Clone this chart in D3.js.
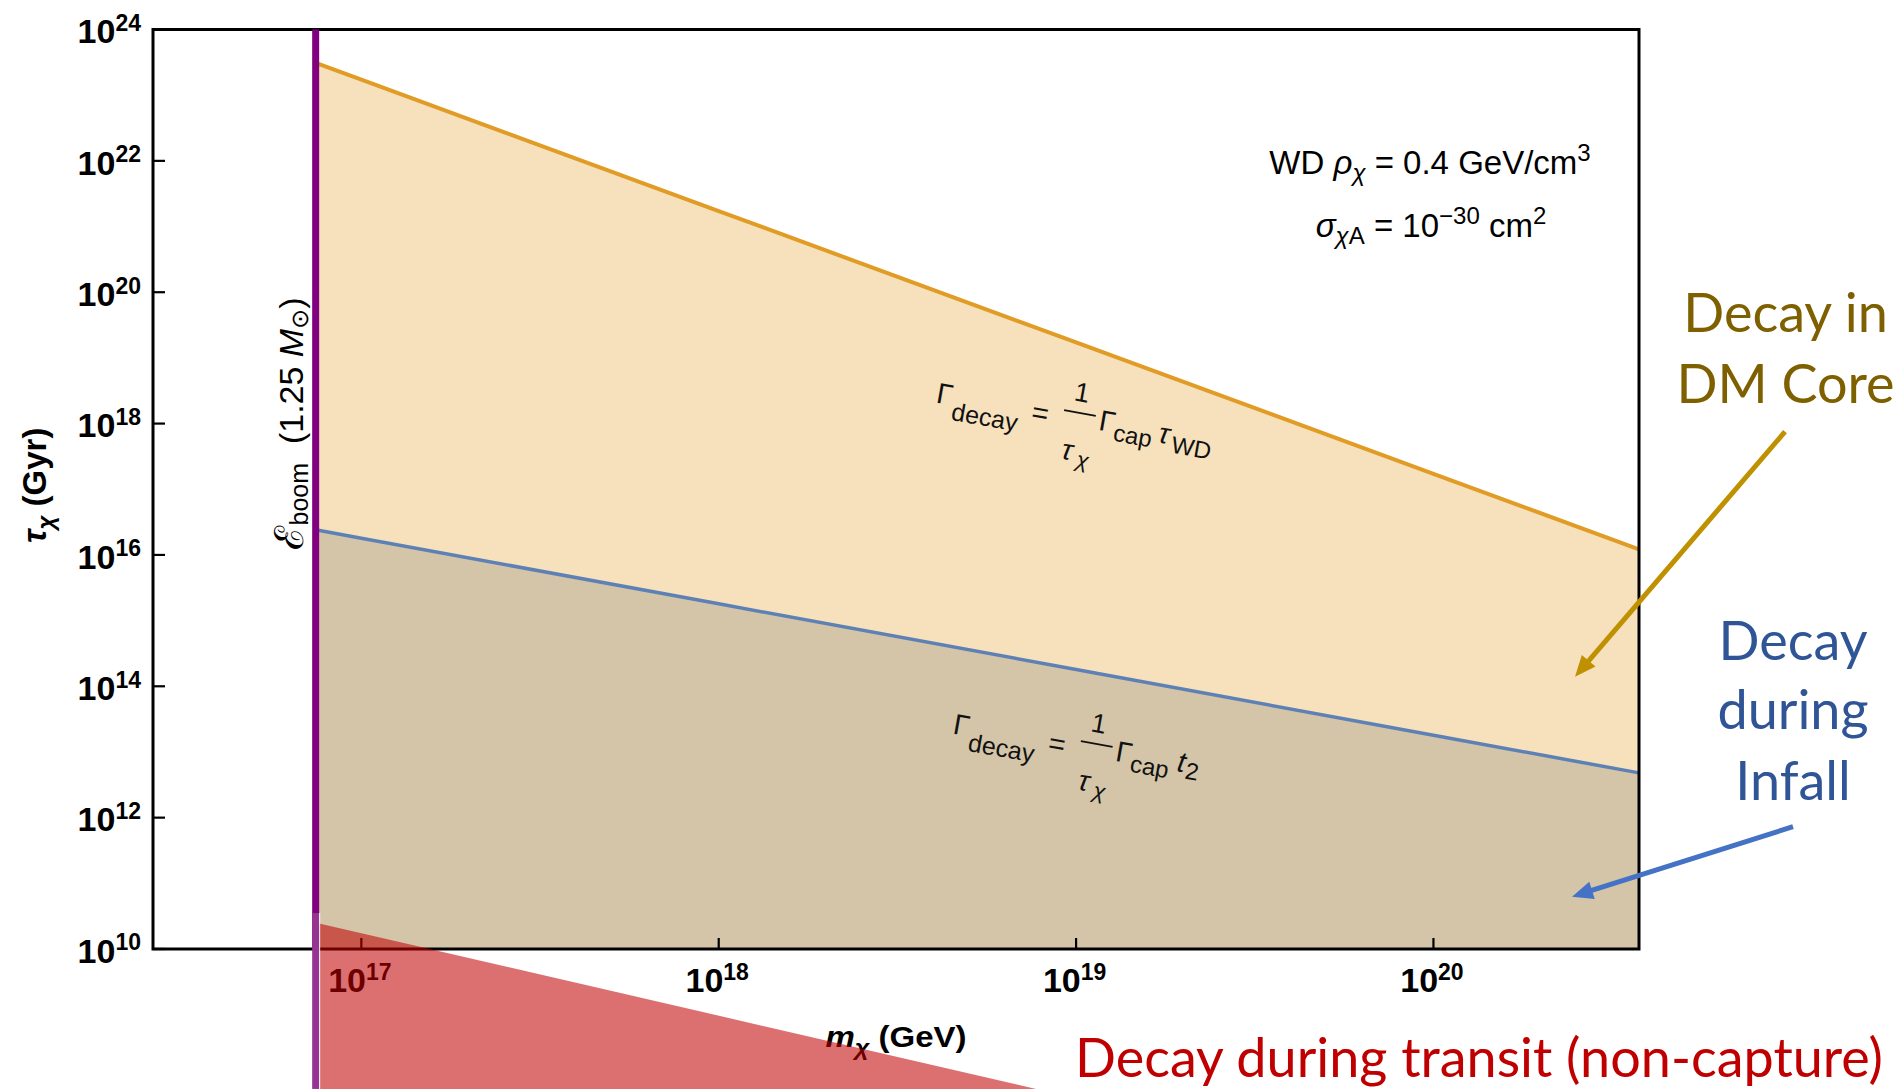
<!DOCTYPE html>
<html><head><meta charset="utf-8">
<script src="https://cdn.jsdelivr.net/npm/d3@7"></script>
<style>
html,body{margin:0;padding:0;background:#fff;}
svg{display:block;}
</style></head><body>
<svg id="chart" width="1895" height="1089"></svg>
<script>
// ---------------- data ----------------
const massGrid   = [7.45e16, 1e17, 1e18, 1e19, 1e20, 3.76e20];           // m_X (GeV)
const tauCore    = [3.1e23, 1.72e23, 1.72e21, 1.72e19, 1.72e17, 1.22e16];  // Γdecay = Γcap τWD / τχ
const tauInfall  = [2.42e16, 1.8e16, 1.8e15, 1.8e14, 1.8e13, 4.8e12];    // Γdecay = Γcap t2 / τχ
const transitMass = [7.45e16, 7.73e18];                                 // decay during transit overlay
const transitTau  = [2.45e10, 7.4e7];
const boomMass = 7.45e16;                                               // E_boom (1.25 Msun)
const boomOverlayTau = [3.53e10, 7.4e7];
const xTickVals = [1e17, 1e18, 1e19, 1e20];
const xTickExp  = ["17", "18", "19", "20"];
const yTickVals = [1e10, 1e12, 1e14, 1e16, 1e18, 1e20, 1e22, 1e24];
const yTickExp  = ["10", "12", "14", "16", "18", "20", "22", "24"];
const xDomain = [2.612e16, 3.76e20];
const yDomain = [1e10, 1e24];

// ---------------- setup ----------------
const svg = d3.select("#chart");
const FONT = "'Liberation Sans', Arial, Helvetica, sans-serif";
const CAL = "Lato, 'Open Sans', sans-serif";
const L = 153, R = 1639, T = 29.5, B = 949;
const x = d3.scaleLog().domain(xDomain).range([L, R]);
const y = d3.scaleLog().domain(yDomain).range([B, T]);

const pts = (taus) => massGrid.map((m, i) => [m, taus[i]]);
const area = d3.area().x(d => x(d[0])).y0(y(yDomain[0])).y1(d => y(d[1]));
const line = d3.line().x(d => x(d[0])).y(d => y(d[1]));

const plot = svg.append("g");
plot.append("path").attr("d", area(pts(tauCore))).attr("fill", "#f6e1bc");
plot.append("path").attr("d", area(pts(tauInfall))).attr("fill", "#d4c5a9");
plot.append("path").attr("d", line(pts(tauCore))).attr("fill", "none")
  .attr("stroke", "#e09c24").attr("stroke-width", 4);
plot.append("path").attr("d", line(pts(tauInfall))).attr("fill", "none")
  .attr("stroke", "#5e81b5").attr("stroke-width", 3.5);

// frame
svg.append("rect").attr("x", L).attr("y", T).attr("width", R - L).attr("height", B - T)
  .attr("fill", "none").attr("stroke", "#000").attr("stroke-width", 3);

// ticks
const tickG = svg.append("g").attr("stroke", "#000").attr("stroke-width", 2.2);
yTickVals.forEach(v => tickG.append("line").attr("x1", L).attr("x2", L + 12).attr("y1", y(v)).attr("y2", y(v)));
xTickVals.forEach(v => tickG.append("line").attr("x1", x(v)).attr("x2", x(v)).attr("y1", B).attr("y2", B - 11));

// purple E_boom line
svg.append("line").attr("x1", x(boomMass)).attr("x2", x(boomMass))
  .attr("y1", y(yDomain[1])).attr("y2", y(yDomain[0]))
  .attr("stroke", "#800080").attr("stroke-width", 7);

// tick labels
function powLabel(px, py, exp, anchor) {
  const t = svg.append("text").attr("transform", `translate(${px},${py})`)
    .attr("text-anchor", anchor).attr("font-family", FONT).attr("font-weight", "bold")
    .attr("font-size", 34).attr("fill", "#000");
  t.append("tspan").text("10");
  t.append("tspan").attr("dy", -12.5).attr("font-size", 23).text(exp);
}
yTickVals.forEach((v, i) => powLabel(141, y(v) + 13.8, yTickExp[i], "end"));
xTickVals.forEach((v, i) => powLabel(x(v) - 1.5, 992, xTickExp[i], "middle"));

// axis titles
const yt = svg.append("text").attr("transform", `translate(46,${(T + B) / 2 - 4}) rotate(-90)`)
  .attr("text-anchor", "middle").attr("font-family", FONT).attr("font-weight", "bold").attr("font-size", 33);
yt.append("tspan").attr("font-style", "italic").text("τ");
yt.append("tspan").attr("font-style", "italic").attr("font-size", 24).attr("dy", 8).text("χ");
yt.append("tspan").attr("dy", -8).text(" (Gyr)");

const xt = svg.append("text").attr("transform", `translate(${(L + R) / 2},1047) scale(1.1,1)`)
  .attr("text-anchor", "middle").attr("font-family", FONT).attr("font-weight", "bold").attr("font-size", 30);
xt.append("tspan").attr("font-style", "italic").text("m");
xt.append("tspan").attr("font-style", "italic").attr("font-size", 23).attr("dy", 8).text("χ");
xt.append("tspan").attr("dy", -8).text(" (GeV)");

// E_boom label (rotated)
const eb = svg.append("text").attr("transform", `translate(${x(boomMass) - 13},423.5) rotate(-90)`)
  .attr("text-anchor", "middle").attr("font-family", FONT).attr("font-size", 34).attr("fill", "#000");
eb.append("tspan").attr("font-size", 40).text("ℰ");
eb.append("tspan").attr("font-size", 25).attr("dy", 5).text("boom");
eb.append("tspan").attr("dy", -5).attr("xml:space", "preserve").text("  (1.25 ");
eb.append("tspan").attr("font-style", "italic").text("M");
eb.append("tspan").attr("font-size", 24).attr("dy", 5).text("⊙");
eb.append("tspan").attr("dy", -5).text(")");

// parameter box text
const p1 = svg.append("text").attr("x", 1430).attr("y", 174).attr("text-anchor", "middle")
  .attr("font-family", FONT).attr("font-size", 33);
p1.append("tspan").text("WD ");
p1.append("tspan").attr("font-style", "italic").text("ρ");
p1.append("tspan").attr("font-style", "italic").attr("font-size", 24).attr("dy", 7).text("χ");
p1.append("tspan").attr("dy", -7).text(" = 0.4 GeV/cm");
p1.append("tspan").attr("font-size", 24).attr("dy", -13).text("3");
const p2 = svg.append("text").attr("x", 1431).attr("y", 236.7).attr("text-anchor", "middle")
  .attr("font-family", FONT).attr("font-size", 33);
p2.append("tspan").attr("font-style", "italic").text("σ");
p2.append("tspan").attr("font-style", "italic").attr("font-size", 24).attr("dy", 7).text("χ");
p2.append("tspan").attr("font-size", 24).text("A");
p2.append("tspan").attr("dy", -7).text(" = 10");
p2.append("tspan").attr("font-size", 24).attr("dy", -13).text("−30");
p2.append("tspan").attr("dy", 13).text(" cm");
p2.append("tspan").attr("font-size", 24).attr("dy", -13).text("2");

// rotated formula labels
function formula(mAnchor, tAnchor, tail) {
  const ax = x(mAnchor), ay = y(tAnchor);
  const g = svg.append("g").attr("transform", `translate(${ax},${ay})`)
    .attr("font-family", FONT).attr("fill", "#111");
  const piece = (px, py, txt, size, italic, anchor) => {
    g.append("text").attr("transform", `translate(${px},${py}) rotate(10)`)
      .attr("font-size", size).attr("font-style", italic ? "italic" : "normal")
      .attr("text-anchor", anchor || "start").text(txt);
  };
  piece(0, 0, "Γ", 29, false);
  piece(15, 17.2, "decay", 25, false);
  piece(95, 18.5, "=", 29, false);
  piece(145.3, -1, "1", 27, false, "middle");
  g.append("line").attr("x1", 128.8).attr("y1", 7.5).attr("x2", 160.5).attr("y2", 13.3)
    .attr("stroke", "#111").attr("stroke-width", 1.8);
  piece(125, 56, "τ", 29, true);
  piece(140, 64, "χ", 22, true);
  piece(162.5, 27.2, "Γ", 29, false);
  piece(177, 38, "cap", 24, false);
  tail.forEach(p => piece(p[0], p[1], p[2], p[3], p[4]));
}
formula(Math.pow(10, 18.606), Math.pow(10, 18.32), [[222, 39.6, "τ", 29, true], [235, 50, "WD", 24, false]]);
formula(Math.pow(10, 18.653), Math.pow(10, 13.28), [[224, 37.4, "t", 29, true], [232, 45, "2", 24, false]]);

// ---------------- overlay (transit + annotations) ----------------
const transitPoly = [
  [x(transitMass[0]) + 3.5, y(transitTau[0])],
  [x(transitMass[1]), y(transitTau[1])],
  [x(transitMass[0]) + 3.5, y(transitTau[1])]
];
svg.append("path").attr("d", "M" + transitPoly.map(p => p.join(",")).join("L") + "Z")
  .attr("fill", "#c00000").attr("fill-opacity", 0.56);
svg.append("rect").attr("x", x(boomMass) - 3.5).attr("y", y(boomOverlayTau[0]))
  .attr("width", 7).attr("height", y(boomOverlayTau[1]) - y(boomOverlayTau[0]))
  .attr("fill", "#973393");
svg.append("line").attr("x1", x(boomMass) + 4).attr("x2", x(boomMass) + 4)
  .attr("y1", y(boomOverlayTau[0])).attr("y2", y(boomOverlayTau[1]))
  .attr("stroke", "#fff").attr("stroke-width", 1);

function arrow(x1, y1, x2, y2, color, w, hl, hw) {
  const dx = x2 - x1, dy = y2 - y1, len = Math.hypot(dx, dy);
  const ux = dx / len, uy = dy / len;
  const bx = x2 - ux * hl, by = y2 - uy * hl;
  svg.append("line").attr("x1", x1).attr("y1", y1).attr("x2", bx + ux * 2).attr("y2", by + uy * 2)
    .attr("stroke", color).attr("stroke-width", w);
  svg.append("path").attr("d", `M${x2},${y2}L${bx - uy * hw / 2},${by + ux * hw / 2}L${bx + uy * hw / 2},${by - ux * hw / 2}Z`)
    .attr("fill", color);
}
arrow(1785, 431.7, 1575, 676.7, "#bf9000", 5, 21, 18);
arrow(1793, 826.7, 1572, 896.7, "#4472c4", 5, 21, 18);

function annot(lines, cx, baselines, color) {
  lines.forEach((s, i) => svg.append("text").attr("x", cx).attr("y", baselines[i])
    .attr("text-anchor", "middle").attr("font-family", CAL).attr("font-size", 54)
    .attr("fill", color).text(s));
}
annot(["Decay in", "DM Core"], 1785.5, [331.7, 402.7], "#7f6000");
annot(["Decay", "during", "Infall"], 1793, [660, 729, 800], "#2f5597");
svg.append("text").attr("x", 1075).attr("y", 1077).attr("font-family", CAL).attr("font-size", 54)
  .attr("textLength", 808).attr("lengthAdjust", "spacingAndGlyphs")
  .attr("fill", "#c00000").text("Decay during transit (non-capture)");
</script>
</body></html>
